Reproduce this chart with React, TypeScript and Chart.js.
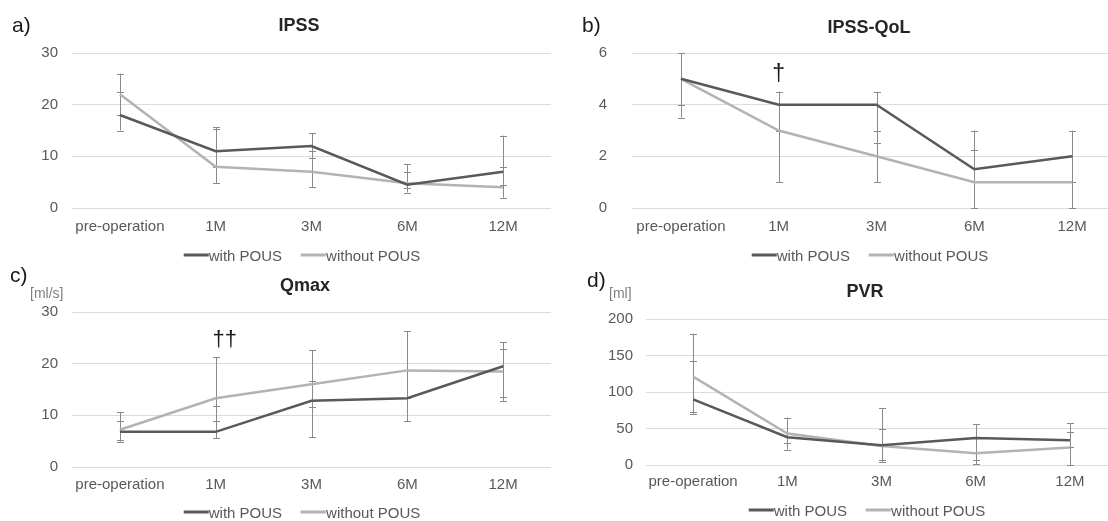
import React, { useEffect, useRef } from "react";
import { Chart, registerables } from "chart.js";

Chart.register(...registerables);

const FONT = "'Liberation Sans', Arial, Helvetica, sans-serif";
const DARK = "#595959";
const LIGHT = "#b3b3b3";
const ERR = "#8a8a8a";
const GRID = "#dcdcdc";
const TICK = "#595959";

const categories = ["pre-operation", "1M", "3M", "6M", "12M"];
const seriesLabels = ["with POUS", "without POUS"];

// a) IPSS
const ipssWith = [18, 11, 12, 4.5, 7];
const ipssWithLow = [15, 8, 9.7, 3, 4.5];
const ipssWithHigh = [22.5, 15.6, 14.5, 8.5, 14];
const ipssWithout = [22, 8, 7, 4.8, 4];
const ipssWithoutLow = [18, 4.8, 4, 3.9, 2];
const ipssWithoutHigh = [26, 15.2, 11, 7, 8];
const ipssTicks = [0, 10, 20, 30];
const ipssMarks = ["", "", "", "", ""];
const ipssMarkValue = 0;

// b) IPSS-QoL
const qolWith = [5, 4, 4, 1.5, 2];
const qolWithLow = [4, 3, 2.5, 1, 1];
const qolWithHigh = [6, 4.5, 4.5, 3, 3];
const qolWithout = [5, 3, 2, 1, 1];
const qolWithoutLow = [3.5, 1, 1, 0, 0];
const qolWithoutHigh = [6, 4.5, 3, 2.25, 1];
const qolTicks = [0, 2, 4, 6];
const qolMarks = ["", "†", "", "", ""];
const qolMarkValue = 5.15;

// c) Qmax [ml/s]
const qmaxWith = [6.8, 6.8, 12.8, 13.3, 19.5];
const qmaxWithLow = [4.9, 5.6, 5.8, 8.9, 12.8];
const qmaxWithHigh = [9, 11.8, 16.6, 18.7, 24.2];
const qmaxWithout = [7.2, 13.3, 16, 18.7, 18.5];
const qmaxWithoutLow = [5.2, 8.9, 11.6, 13.3, 13.5];
const qmaxWithoutHigh = [10.6, 21.2, 22.6, 26.3, 22.8];
const qmaxTicks = [0, 10, 20, 30];
const qmaxMarks = ["", "††", "", "", ""];
const qmaxMarkValue = 24.6;

// d) PVR [ml]
const pvrWith = [90, 38, 27, 37, 34];
const pvrWithLow = [70, 21, 7, 6.4, 24];
const pvrWithHigh = [142, 64, 50, 56, 57];
const pvrWithout = [121, 43, 26, 16, 24];
const pvrWithoutLow = [72, 30, 4, 1, 0];
const pvrWithoutHigh = [180, 65, 77.5, 37, 45];
const pvrTicks = [0, 50, 100, 150, 200];
const pvrMarks = ["", "", "", "", ""];
const pvrMarkValue = 0;

const CANVAS_W = 1130;
const CANVAS_H = 521;

type Panel = {
  key: string;
  withV: number[];
  withLo: number[];
  withHi: number[];
  withoutV: number[];
  withoutLo: number[];
  withoutHi: number[];
  ticks: number[];
  marks: string[];
  markValue: number;
  area: { left: number; right: number; top: number; bottom: number };
  tickPad: number;
  xPad: number;
  markFont: number;
  markDx: number;
  title: string;
  titleX: number;
  titleY: number;
  letter: string;
  letterX: number;
  letterY: number;
  unit?: string;
  unitX?: number;
  unitY?: number;
  legendX: number;
  legendY: number;
};

const panels: Panel[] = [
  {
    key: "a",
    withV: ipssWith, withLo: ipssWithLow, withHi: ipssWithHigh,
    withoutV: ipssWithout, withoutLo: ipssWithoutLow, withoutHi: ipssWithoutHigh,
    ticks: ipssTicks, marks: ipssMarks, markValue: ipssMarkValue,
    area: { left: 72, right: 551, top: 53, bottom: 208 },
    tickPad: 14, xPad: 10, markFont: 22, markDx: 0,
    title: "IPSS", titleX: 299, titleY: 25,
    letter: "a)", letterX: 12, letterY: 24,
    legendX: 302, legendY: 255,
  },
  {
    key: "b",
    withV: qolWith, withLo: qolWithLow, withHi: qolWithHigh,
    withoutV: qolWithout, withoutLo: qolWithoutLow, withoutHi: qolWithoutHigh,
    ticks: qolTicks, marks: qolMarks, markValue: qolMarkValue,
    area: { left: 632, right: 1121, top: 53, bottom: 208 },
    tickPad: 25, xPad: 10, markFont: 23, markDx: 0,
    title: "IPSS-QoL", titleX: 869, titleY: 27,
    letter: "b)", letterX: 582, letterY: 24,
    legendX: 870, legendY: 255,
  },
  {
    key: "c",
    withV: qmaxWith, withLo: qmaxWithLow, withHi: qmaxWithHigh,
    withoutV: qmaxWithout, withoutLo: qmaxWithoutLow, withoutHi: qmaxWithoutHigh,
    ticks: qmaxTicks, marks: qmaxMarks, markValue: qmaxMarkValue,
    area: { left: 72, right: 551, top: 312, bottom: 467 },
    tickPad: 14, xPad: 9, markFont: 22, markDx: 9,
    title: "Qmax", titleX: 305, titleY: 285,
    letter: "c)", letterX: 10, letterY: 274,
    unit: "[ml/s]", unitX: 30, unitY: 293,
    legendX: 302, legendY: 512,
  },
  {
    key: "d",
    withV: pvrWith, withLo: pvrWithLow, withHi: pvrWithHigh,
    withoutV: pvrWithout, withoutLo: pvrWithoutLow, withoutHi: pvrWithoutHigh,
    ticks: pvrTicks, marks: pvrMarks, markValue: pvrMarkValue,
    area: { left: 646, right: 1117, top: 319, bottom: 465 },
    tickPad: 13, xPad: 8, markFont: 22, markDx: 0,
    title: "PVR", titleX: 865, titleY: 291,
    letter: "d)", letterX: 587, letterY: 279,
    unit: "[ml]", unitX: 609, unitY: 293,
    legendX: 867, legendY: 510,
  },
];

const errorBarPlugin = {
  id: "errorBars",
  beforeDatasetsDraw(chart: any) {
    const ctx = chart.ctx;
    const y = chart.scales.y;
    ctx.save();
    ctx.strokeStyle = ERR;
    ctx.lineWidth = 1;
    chart.data.datasets.forEach((ds: any, i: number) => {
      const meta = chart.getDatasetMeta(i);
      meta.data.forEach((pt: any, j: number) => {
        const x = Math.round(pt.x) + 0.5;
        const lo = y.getPixelForValue(ds.errLow[j]);
        const hi = y.getPixelForValue(ds.errHigh[j]);
        ctx.beginPath();
        ctx.moveTo(x, lo);
        ctx.lineTo(x, hi);
        ctx.moveTo(x - 3.5, Math.round(lo) + 0.5);
        ctx.lineTo(x + 3.5, Math.round(lo) + 0.5);
        ctx.moveTo(x - 3.5, Math.round(hi) + 0.5);
        ctx.lineTo(x + 3.5, Math.round(hi) + 0.5);
        ctx.stroke();
      });
    });
    ctx.restore();
  },
};

const markPlugin = {
  id: "marks",
  afterDatasetsDraw(chart: any, _args: any, opts: any) {
    const marks: string[] = opts.marks || [];
    const ctx = chart.ctx;
    const xs = chart.scales.x;
    const ys = chart.scales.y;
    ctx.save();
    ctx.fillStyle = "#1a1a1a";
    ctx.font = `${opts.size}px ${FONT}`;
    ctx.textAlign = "center";
    ctx.textBaseline = "middle";
    marks.forEach((m, i) => {
      if (!m) return;
      const px = xs.getPixelForValue(i) + opts.dx;
      const py = ys.getPixelForValue(opts.value);
      ctx.fillText(m, px, py);
    });
    ctx.restore();
  },
};

function PanelChart({ p }: { p: Panel }) {
  const ref = useRef<HTMLCanvasElement | null>(null);
  useEffect(() => {
    if (!ref.current) return;
    const Y_W = 40;
    const X_H = 30;
    const t = p.ticks;
    const chart = new Chart(ref.current, {
      type: "line",
      data: {
        labels: categories,
        datasets: [
          {
            label: seriesLabels[0],
            data: p.withV,
            borderColor: DARK,
            backgroundColor: DARK,
            borderWidth: 2.5,
            pointRadius: 0,
            tension: 0,
            errLow: p.withLo,
            errHigh: p.withHi,
          } as any,
          {
            label: seriesLabels[1],
            data: p.withoutV,
            borderColor: LIGHT,
            backgroundColor: LIGHT,
            borderWidth: 2.5,
            pointRadius: 0,
            tension: 0,
            errLow: p.withoutLo,
            errHigh: p.withoutHi,
          } as any,
        ],
      },
      options: {
        animation: false,
        responsive: false,
        maintainAspectRatio: false,
        events: [],
        layout: {
          padding: {
            left: p.area.left - Y_W,
            right: CANVAS_W - p.area.right,
            top: p.area.top,
            bottom: CANVAS_H - p.area.bottom - X_H,
          },
        },
        plugins: {
          legend: { display: false },
          title: { display: false },
          tooltip: { enabled: false },
          marks: { marks: p.marks, value: p.markValue, size: p.markFont, dx: p.markDx },
        } as any,
        scales: {
          x: {
            type: "category",
            offset: true,
            grid: { display: false, drawTicks: false },
            border: { display: false },
            ticks: {
              padding: p.xPad,
              color: TICK,
              font: { family: FONT, size: 15 },
              maxRotation: 0,
              autoSkip: false,
            },
            afterFit: (s: any) => {
              s.height = X_H;
            },
          },
          y: {
            type: "linear",
            min: t[0],
            max: t[t.length - 1],
            grid: { color: GRID, lineWidth: 1, drawTicks: false },
            border: { display: false },
            ticks: {
              padding: p.tickPad,
              color: TICK,
              font: { family: FONT, size: 15 },
            },
            afterBuildTicks: (s: any) => {
              s.ticks = t.map((v) => ({ value: v }));
            },
            afterFit: (s: any) => {
              s.width = Y_W;
            },
          },
        },
      },
      plugins: [errorBarPlugin, markPlugin],
    });
    return () => chart.destroy();
  }, [p]);
  return (
    <canvas
      ref={ref}
      width={CANVAS_W}
      height={CANVAS_H}
      style={{ position: "absolute", left: 0, top: 0, width: CANVAS_W, height: CANVAS_H }}
    />
  );
}

function Legend({ x, y }: { x: number; y: number }) {
  const item = (color: string, text: string, gap: number) => (
    <span style={{ display: "inline-flex", alignItems: "center", marginLeft: gap }}>
      <span style={{ display: "inline-block", width: 25, height: 3, background: color }} />
      <span>{text}</span>
    </span>
  );
  return (
    <div
      style={{
        position: "absolute",
        left: x,
        top: y,
        transform: "translate(-50%, -50%)",
        display: "flex",
        alignItems: "center",
        whiteSpace: "nowrap",
        font: `15px ${FONT}`,
        lineHeight: 1,
        color: TICK,
      }}
    >
      {item(DARK, seriesLabels[0], 0)}
      {item(LIGHT, seriesLabels[1], 19)}
    </div>
  );
}

export default function App() {
  return (
    <div
      style={{
        position: "absolute",
        left: 0,
        top: 0,
        width: 1108,
        height: 521,
        overflow: "hidden",
        background: "#ffffff",
        fontFamily: FONT,
      }}
    >
      {panels.map((p) => (
        <PanelChart key={p.key} p={p} />
      ))}
      {panels.map((p) => (
        <React.Fragment key={"t" + p.key}>
          <div
            style={{
              position: "absolute",
              left: p.titleX,
              top: p.titleY,
              transform: "translate(-50%, -50%)",
              font: `bold 18px ${FONT}`,
              lineHeight: 1,
              color: "#262626",
              whiteSpace: "nowrap",
            }}
          >
            {p.title}
          </div>
          <div
            style={{
              position: "absolute",
              left: p.letterX,
              top: p.letterY,
              transform: "translateY(-50%)",
              font: `21px ${FONT}`,
              lineHeight: 1,
              color: "#1a1a1a",
              whiteSpace: "nowrap",
            }}
          >
            {p.letter}
          </div>
          {p.unit ? (
            <div
              style={{
                position: "absolute",
                left: p.unitX,
                top: p.unitY,
                transform: "translateY(-50%)",
                font: `14px ${FONT}`,
                lineHeight: 1,
                color: "#808080",
                whiteSpace: "nowrap",
              }}
            >
              {p.unit}
            </div>
          ) : null}
          <Legend x={p.legendX} y={p.legendY} />
        </React.Fragment>
      ))}
    </div>
  );
}
